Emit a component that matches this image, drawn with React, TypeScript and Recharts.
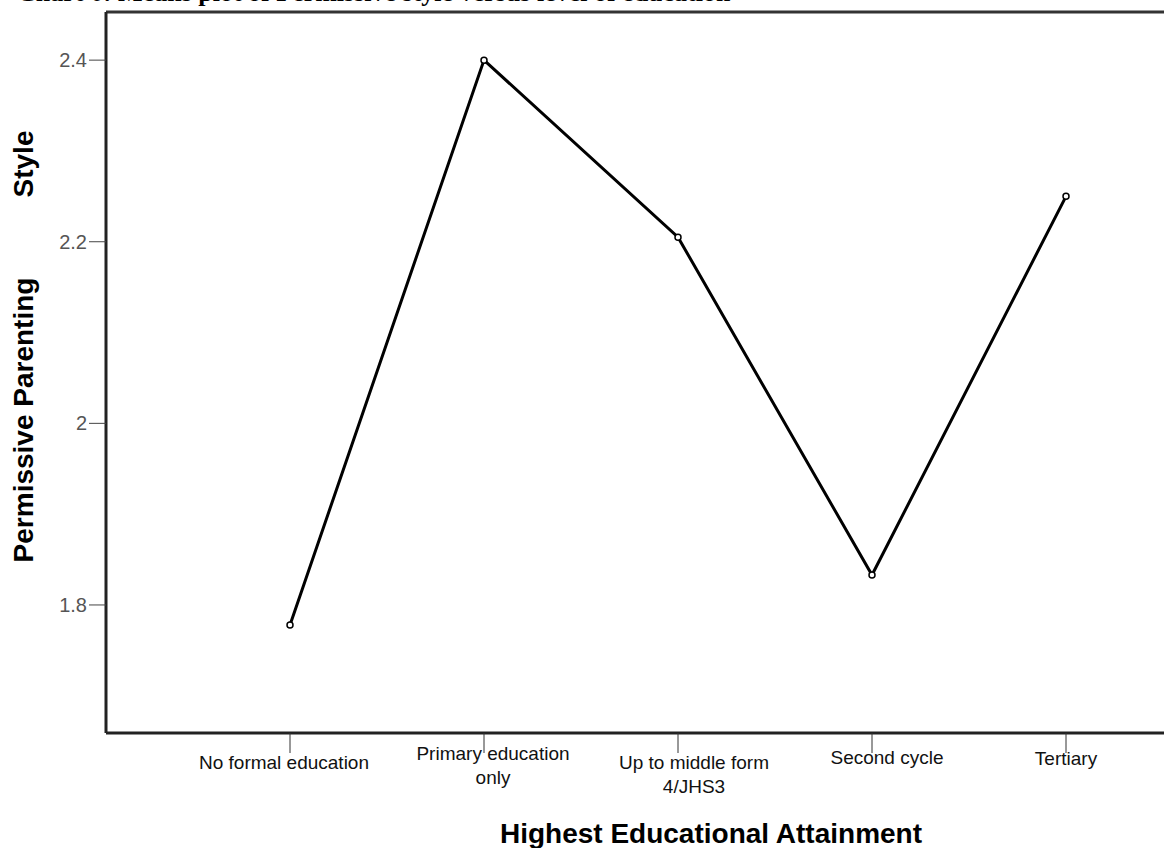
import React from 'react'
import { LineChart, Line, XAxis, YAxis, ReferenceLine } from 'recharts'

// Mean permissive parenting score per education level
const levels = ['No formal education', 'Primary education only', 'Up to middle form 4/JHS3', 'Second cycle', 'Tertiary']
const levelLabelLines = [['No formal education'], ['Primary education', 'only'], ['Up to middle form', '4/JHS3'], ['Second cycle'], ['Tertiary']]
const meanScores = [1.778, 2.4, 2.205, 1.833, 2.25]
const yTicks = [1.8, 2, 2.2, 2.4]
const yDomain: [number, number] = [1.659, 2.453]

const data = levels.map((level, i) => ({ level, mean: meanScores[i] }))

const SANS = '"Liberation Sans", Arial, sans-serif'

// SPSS-style labels sit a little off their ticks
const labelShift: Record<string, { dx: number; dy: number }> = {
  'No formal education': { dx: -6, dy: 14 },
  'Primary education only': { dx: 9, dy: 5 },
  'Up to middle form 4/JHS3': { dx: 16, dy: 14 },
  'Second cycle': { dx: 15, dy: 9 },
  'Tertiary': { dx: 0, dy: 10 },
}

const LevelTick = (props: any) => {
  const { x, y, payload } = props
  const idx = levels.indexOf(payload.value)
  const lines = levelLabelLines[idx] || [payload.value]
  const s = labelShift[payload.value] || { dx: 0, dy: 10 }
  return (
    <text x={x + s.dx} y={y + s.dy} textAnchor="middle" fontSize={19} fill="#111" fontFamily={SANS}>
      {lines.map((line, i) => (
        <tspan key={i} x={x + s.dx} dy={i === 0 ? 0 : 24}>{line}</tspan>
      ))}
    </text>
  )
}

export default function App() {
  return (
    <div style={{ position: 'relative', width: 1164, height: 848, overflow: 'hidden', background: '#fff' }}>
      <style>{'body{margin:0}'}</style>

      <LineChart width={1164} height={848} data={data} margin={{ top: 12, right: 0, bottom: 0, left: 0 }}>
        <XAxis
          dataKey="level"
          height={115}
          padding={{ left: 184, right: 98 }}
          axisLine={{ stroke: '#222', strokeWidth: 3 }}
          tickLine={{ stroke: '#333', strokeWidth: 1 }}
          tickSize={20}
          tickMargin={2}
          interval={0}
          tick={<LevelTick />}
        />
        <YAxis
          type="number"
          width={106}
          domain={yDomain}
          ticks={yTicks}
          allowDataOverflow
          axisLine={{ stroke: '#222', strokeWidth: 3 }}
          tickLine={{ stroke: '#444', strokeWidth: 1 }}
          tickSize={17}
          tickMargin={2}
          tick={{ fontSize: 20, fill: '#555', fontFamily: SANS }}
        />
        <ReferenceLine y={yDomain[1]} stroke="#333" strokeWidth={3} ifOverflow="extendDomain" />
        <Line
          type="linear"
          dataKey="mean"
          stroke="#000"
          strokeWidth={3}
          dot={{ r: 3, stroke: '#000', strokeWidth: 1.5, fill: '#fff' }}
          isAnimationActive={false}
        />
      </LineChart>

      {/* titles; the top caption is clipped by the page edge as in the source scan */}
      <svg width={1164} height={848} style={{ position: 'absolute', left: 0, top: 0, pointerEvents: 'none' }}>
        <text x={17} y={1} fontSize={26} fontWeight="bold" fontFamily='"Liberation Serif", "Times New Roman", serif' fill="#000">
          Chart 6: Means plot of Permissive style versus level of education
        </text>
        <text x={711} y={843} textAnchor="middle" fontSize={28} fontWeight="bold" fontFamily={SANS} fill="#000">
          Highest Educational Attainment
        </text>
        <text transform="translate(33,420) rotate(-90)" textAnchor="middle" fontSize={28} fontWeight="bold" fontFamily={SANS} fill="#000">
          Permissive Parenting
        </text>
        <text transform="translate(33,164) rotate(-90)" textAnchor="middle" fontSize={28} fontWeight="bold" fontFamily={SANS} fill="#000">
          Style
        </text>
      </svg>
    </div>
  )
}
